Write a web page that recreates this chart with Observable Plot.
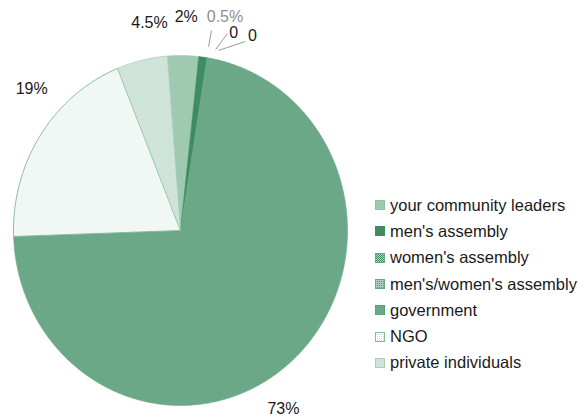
<!DOCTYPE html>
<html><head><meta charset="utf-8">
<script src="https://cdn.jsdelivr.net/npm/d3@7"></script>
<script src="https://cdn.jsdelivr.net/npm/@observablehq/plot@0.6"></script>
<style>
body{margin:0;background:#fff;font-family:"Liberation Sans",Arial,sans-serif;}
#wrap{position:relative;width:579px;height:419px;overflow:hidden;}
#legend{position:absolute;left:375px;top:192px;}
.item{display:flex;align-items:center;height:26.3px;font-size:16.5px;color:#1a1a1a;white-space:nowrap;}
.item svg{margin-right:5px;flex:none;}
</style></head><body>
<svg width="0" height="0" style="position:absolute"><defs>
<pattern id="p-ngo" width="2" height="2" patternUnits="userSpaceOnUse"><rect width="2" height="2" fill="#ffffff"/><rect width="1" height="1" fill="#c3dfd1"/></pattern>
<pattern id="p-women" width="2" height="2" patternUnits="userSpaceOnUse"><rect width="2" height="2" fill="#b3d6c2"/><rect width="1" height="1" fill="#3e8c5f"/><rect x="1" y="1" width="1" height="1" fill="#3e8c5f"/></pattern>
<pattern id="p-mw" width="2" height="2" patternUnits="userSpaceOnUse"><rect width="2" height="2" fill="#a6cdb7"/><rect width="1" height="1" fill="#5e9f7c"/></pattern>
</defs></svg>
<div id="wrap"><div id="chart"></div><div id="legend"></div></div>
<script>
// ---- data ----
const categories = ["your community leaders", "men's assembly", "women's assembly", "men's/women's assembly", "government", "NGO", "private individuals"];
const shares = [3.0, 0.8, 0, 0, 71.9, 19.4, 4.9];   // slice sizes (%)
const labels = ["2%", "0.5%", "0", "0", "73%", "19%", "4.5%"];

// ---- styles / layout ----
const fills = ["#a0c9b2", "#3e8c5f", "url(#p-women)", "url(#p-mw)", "#6aa887", "url(#p-ngo)", "#cfe4d8"];
const strokes = ["#a0c9b2", "#3e8c5f", "#3e8c5f", "#5e9f7c", "#6aa887", "#86bba0", "#9cc6b0"];
const swatchStrokes = ["#8fbfa4", "#3e8c5f", "#6aa887", "#6aa887", "#5e9f7c", "#86bba0", "#a9cfbb"];
const labelColors = ["#1a1a1a", "#8f8f8f", "#1a1a1a", "#1a1a1a", "#1a1a1a", "#1a1a1a", "#1a1a1a"];
const labelPolar = [[1.6, 1.22], [12.3, 1.25], [15.7, 1.175], [21.1, 1.195], [148.8, 1.19], [312.3, 1.205], [-8.9, 1.2]];
const leaderPolar = [null, [[9.2, 1.158], [9.1, 1.064]], [[14.0, 1.16], [11.5, 1.055]], [[19.8, 1.148], [12.5, 1.054]], null, null, null];
const startAngle = -4.5;
const cx = 180, cy = 230, rx = 167, ry = 175;

const rad = a => a * Math.PI / 180;
const px = (a, r) => Math.sin(rad(a)) * r;
const py = (a, r) => -Math.cos(rad(a)) * r;

const total = d3.sum(shares);
let acc = startAngle;
const slices = categories.map((c, i) => {
  const a0 = acc, a1 = acc + shares[i] / total * 360; acc = a1;
  return {c, i, a0, a1};
});

const wedgeMarks = [];
for (const s of slices) {
  if (s.a1 - s.a0 <= 0) continue;
  const pts = [{x: 0, y: 0}];
  const n = Math.max(2, Math.ceil((s.a1 - s.a0) / 0.5));
  for (let k = 0; k <= n; k++) {
    const a = s.a0 + (s.a1 - s.a0) * k / n;
    pts.push({x: px(a, 1), y: py(a, 1)});
  }
  pts.push({x: 0, y: 0});
  wedgeMarks.push(Plot.line(pts, {x: "x", y: "y", fill: fills[s.i], stroke: strokes[s.i], strokeWidth: s.i === 5 ? 1 : 0.6, curve: "linear-closed"}));
}

const labelData = categories.map((c, i) => ({
  text: labels[i], x: px(labelPolar[i][0], labelPolar[i][1]), y: py(labelPolar[i][0], labelPolar[i][1]), color: labelColors[i]
}));
const leaderData = leaderPolar.map((l, i) => l && ({
  x1: px(l[0][0], l[0][1]), y1: py(l[0][0], l[0][1]), x2: px(l[1][0], l[1][1]), y2: py(l[1][0], l[1][1])
})).filter(Boolean);

const chart = Plot.plot({
  width: 579, height: 419,
  marginTop: 0, marginRight: 0, marginBottom: 0, marginLeft: 0,
  x: {domain: [-1, 1], range: [cx - rx, cx + rx], axis: null},
  y: {domain: [-1, 1], range: [cy - ry, cy + ry], axis: null},
  color: {type: "identity"},
  style: {fontFamily: "'Liberation Sans', Arial, sans-serif", background: "#fff"},
  marks: [
    ...wedgeMarks,
    Plot.link(leaderData, {x1: "x1", y1: "y1", x2: "x2", y2: "y2", stroke: "#9a9a9a", strokeWidth: 1}),
    Plot.text(labelData, {x: "x", y: "y", text: "text", fill: "color", fontSize: 16})
  ]
});
document.getElementById("chart").appendChild(chart);

const legend = document.getElementById("legend");
categories.forEach((c, i) => {
  const div = document.createElement("div");
  div.className = "item";
  div.innerHTML = `<svg width="10" height="10"><rect x="0.5" y="0.5" width="9" height="9" fill="${fills[i]}" stroke="${swatchStrokes[i]}" stroke-width="1"/></svg><span>${c}</span>`;
  legend.appendChild(div);
});
</script>
</body></html>
